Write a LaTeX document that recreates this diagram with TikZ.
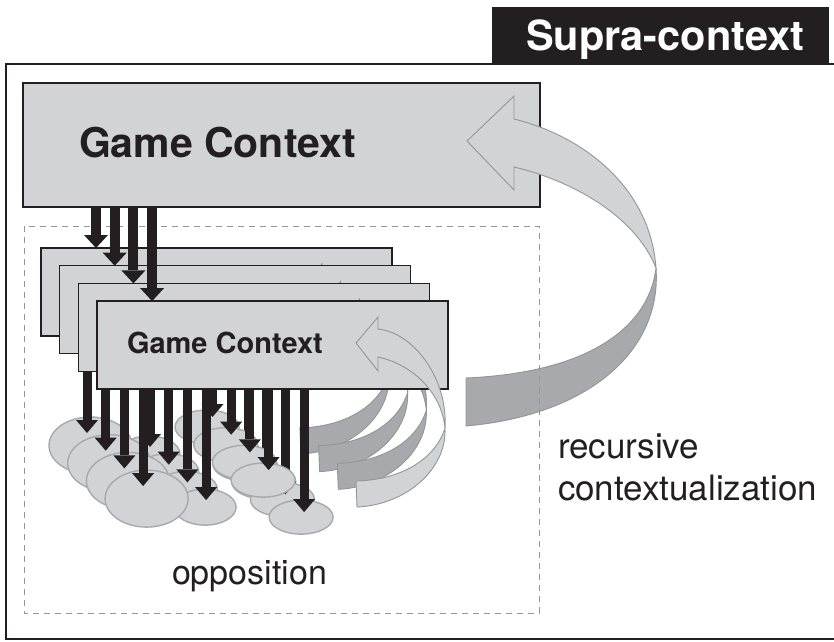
\documentclass[tikz,border=0pt]{standalone}
\usepackage{fontspec}
\setmainfont{TeX Gyre Heros}
\usetikzlibrary{arrows.meta,shapes.geometric}
\definecolor{ink}{HTML}{231F20}
\definecolor{lightg}{HTML}{D1D3D4}
\definecolor{darkg}{HTML}{A7A9AC}
\definecolor{edgeg}{HTML}{939598}
\begin{document}
\begin{tikzpicture}[x=1pt,y=-1pt,
  ctxbox/.style={draw=ink, fill=lightg, line width=1.3pt, inner sep=0pt, outer sep=0pt},
  ell/.style={ellipse, draw=darkg, fill=lightg, line width=1.4pt, inner sep=0pt, outer sep=0pt},
  downarrow/.style={draw=ink, line width=9pt, -{Triangle[width=22pt,length=13pt,line width=0pt]}},
  toparrow/.style={draw=ink, line width=10pt, -{Triangle[width=24pt,length=13pt,line width=0pt]}},
  ribbon/.style={draw=edgeg, line width=0.9pt},
  lbl/.style={anchor=base west, inner sep=0pt, outer sep=0pt, text=ink}]
\useasboundingbox (0,0) rectangle (834,641);
\clip (0,0) rectangle (834,641);
% outer frame
\draw[ink, line width=2pt] (6,64) rectangle (870,639);
% supra-context box
\node[fill=ink, minimum width=337pt, minimum height=58pt, anchor=north west, inner sep=0pt] (supra) at (492,7) {};
\node[lbl, text=white, font=\bfseries\fontsize{41.5}{48}\selectfont] (supralbl) at (526,50) {Supra-context};
% big game context
\node[ctxbox, minimum width=517pt, minimum height=124pt, anchor=north west] (big) at (23,83) {};
\node[lbl, font=\bfseries\fontsize{41}{47}\selectfont] (bigtxt) at (79,157) {Game Context};
% big recursive arrow
\filldraw[ribbon, fill=lightg] (514,119) .. controls (580,135) and (650,185) .. (656,268)
   .. controls (635,215) and (570,180) .. (514,167) -- (514,190) -- (467,141) -- (514,96) -- cycle;
\filldraw[ribbon, fill=darkg] (656,268) .. controls (662,350) and (590,415) .. (466,426)
   -- (466,378) .. controls (600,372) and (650,320) .. (656,268) -- cycle;
% dashed opposition area
\draw[edgeg, line width=0.8pt, dash pattern=on 6pt off 5pt] (24,226) rectangle (539,613);
% stacked copies
\foreach \k/\cc in {0/darkg,1/darkg,2/darkg,3/lightg}{
 \begin{scope}[shift={(18.7*\k,17.7*\k)}]
  \coordinate (tt\k) at (96,248);
  \draw[toparrow] (big.south -| tt\k) -- (tt\k);
  \node[ctxbox, minimum width=351pt, minimum height=88pt, anchor=north west] (r\k) at (41,248) {};
  \begin{scope}[shift={(-56.1,-53.1)}]
   \filldraw[ribbon, fill=\cc] (378,329) .. controls (415,333) and (448,380) .. (445,428)
      .. controls (442,395) and (415,365) .. (378,357) -- (378,371) -- (356,343) -- (378,317) -- cycle;
   \filldraw[ribbon, fill=\cc] (445,428) .. controls (447,470) and (405,505) .. (357,507)
      -- (356,481) .. controls (400,480) and (435,460) .. (445,428) -- cycle;
  \end{scope}
  \node[ell, minimum width=62pt, minimum height=36pt] (eb\k) at (149,454) {};
  \node[ell, minimum width=83pt, minimum height=57pt] (ea\k) at (90.5,445.5) {};
  \node[ell, minimum width=64pt, minimum height=34pt] (ec\k) at (207,427) {};
  \node[ell, minimum width=64pt, minimum height=34pt] (ed\k) at (245,464) {};
  \coordinate (ta\k) at (87,433);
  \coordinate (tb\k) at (150,447);
  \coordinate (tc\k) at (212.5,417);
  \coordinate (td\k) at (248,459);
  \draw[downarrow] (r\k.south -| ta\k) -- (ta\k);
  \draw[downarrow] (r\k.south -| tb\k) -- (tb\k);
  \draw[downarrow] (r\k.south -| tc\k) -- (tc\k);
  \draw[downarrow] (r\k.south -| td\k) -- (td\k);
 \end{scope}
}
\node[lbl, font=\bfseries\fontsize{29}{35}\selectfont] (smalltxt) at (127,353) {Game Context};
% labels
\node[lbl, font=\fontsize{35}{41}\selectfont] (rec1) at (558,458) {recursive};
\node[lbl, font=\fontsize{35}{41}\selectfont] (rec2) at (558,500) {contextualization};
\node[lbl, font=\fontsize{34}{41}\selectfont] (opp) at (172,584) {opposition};
\end{tikzpicture}
\end{document}
